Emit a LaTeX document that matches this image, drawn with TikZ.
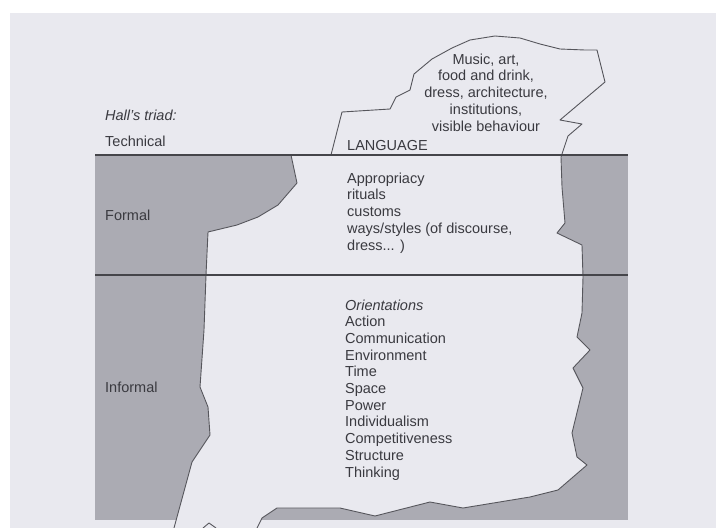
\documentclass[tikz,border=0pt]{standalone}
\usepackage{fontspec}
\setmainfont{Liberation Sans}
\usepackage{tikz}
\usetikzlibrary{calc,positioning}
\definecolor{paper}{RGB}{233,233,239}
\definecolor{sea}{RGB}{171,171,179}
\definecolor{ink}{RGB}{58,58,64}
\definecolor{edge}{RGB}{86,86,92}

\begin{document}
\begin{tikzpicture}[x=1pt, y=-1pt]

\tikzset{
lbl/.style={font=\fontsize{14.5}{16.7}\selectfont, text=ink, inner sep=0pt, anchor=base west},
lst/.style={lbl, align=left},
waterline/.style={draw=edge!80!black, line width=1.5pt},
outline/.style={draw=edge, line width=0.9pt, line join=round}
}

% Page
\fill[white] (0,0) rectangle (716,528);
\fill[paper] (10,13) rectangle (716,528);
\useasboundingbox (0,0) rectangle (716,528);

% Nodes
\coordinate (surfw) at (95,155);
\coordinate (surfe) at (628,155);
\coordinate (deepw) at (95,275);
\coordinate (deepe) at (628,275);
\coordinate (seabed) at (628,520);

% Sea
\fill[sea] (surfw) rectangle (seabed);

% Iceberg below the surface
\fill[paper] (291,155) -- (297,183) -- (278,205) -- (258,217) -- (237,225) -- (208,232)
  -- (206,275) -- (204,330) -- (200,387) -- (208,407) -- (210,435) -- (192,462) -- (174,528)
  -- (257,528) -- (262,518) -- (277,508) -- (340,508) -- (375,516) -- (430,502) -- (463,508)
  -- (530,497) -- (558,490) -- (587,465) -- (577,457) -- (572,433) -- (583,388) -- (573,368)
  -- (590,350) -- (577,337) -- (582,313) -- (583,277) -- (582,245) -- (557,233) -- (565,223)
  -- (562,187) -- (561,155) -- cycle;
\draw[outline] (291,155) -- (297,183) -- (278,205) -- (258,217) -- (237,225) -- (208,232)
  -- (206,275) -- (204,330) -- (200,387) -- (208,407) -- (210,435) -- (192,462) -- (174,528);
\draw[outline] (561,157) -- (562,187) -- (565,223) -- (557,233) -- (582,245) -- (583,277)
  -- (582,313) -- (577,337) -- (590,350) -- (573,368) -- (583,388) -- (572,433) -- (577,457)
  -- (587,465) -- (558,490) -- (530,497) -- (463,508) -- (430,502) -- (375,516) -- (340,508)
  -- (277,508) -- (262,518) -- (257,528);
\draw[outline] (203,528) -- (209,523) -- (216,528);

% Iceberg above the surface
\draw[outline] (331,155) -- (342,112) -- (390,109) -- (396,97) -- (410,90) -- (414,74)
  -- (432,59) -- (452,48) -- (470,40) -- (495,36) -- (520,38) -- (540,44) -- (560,49)
  -- (585,50) -- (597,50) -- (605,82) -- (560,120) -- (582,124) -- (568,136) -- (561,157);

% Water lines
\draw[waterline] (surfw) -- (surfe);
\draw[waterline] (deepw) -- (deepe);

% Labels (lists sit on the baseline of their last line)
\node[lbl] (triad) at (105,120) {\itshape Hall's triad:};
\node[lbl] (technical) at (105,146) {Technical};
\node[lbl] (formal) at (105,220) {Formal};
\node[lbl] (informal) at (105,392) {Informal};
\node[lbl] (language) at (347,150) {LANGUAGE};
\node[lbl, align=center, anchor=base] (visible) at (486,131)
  {Music, art,\\food and drink,\\dress, architecture,\\institutions,\\visible behaviour};
\node[lst] (customs) at (347,250)
  {Appropriacy\\rituals\\customs\\ways/styles (of discourse,\\dress... )};
\node[lst] (orient) at (345,477)
  {\textit{Orientations}\\Action\\Communication\\Environment\\Time\\Space\\Power\\Individualism\\Competitiveness\\Structure\\Thinking};

\end{tikzpicture}
\end{document}
